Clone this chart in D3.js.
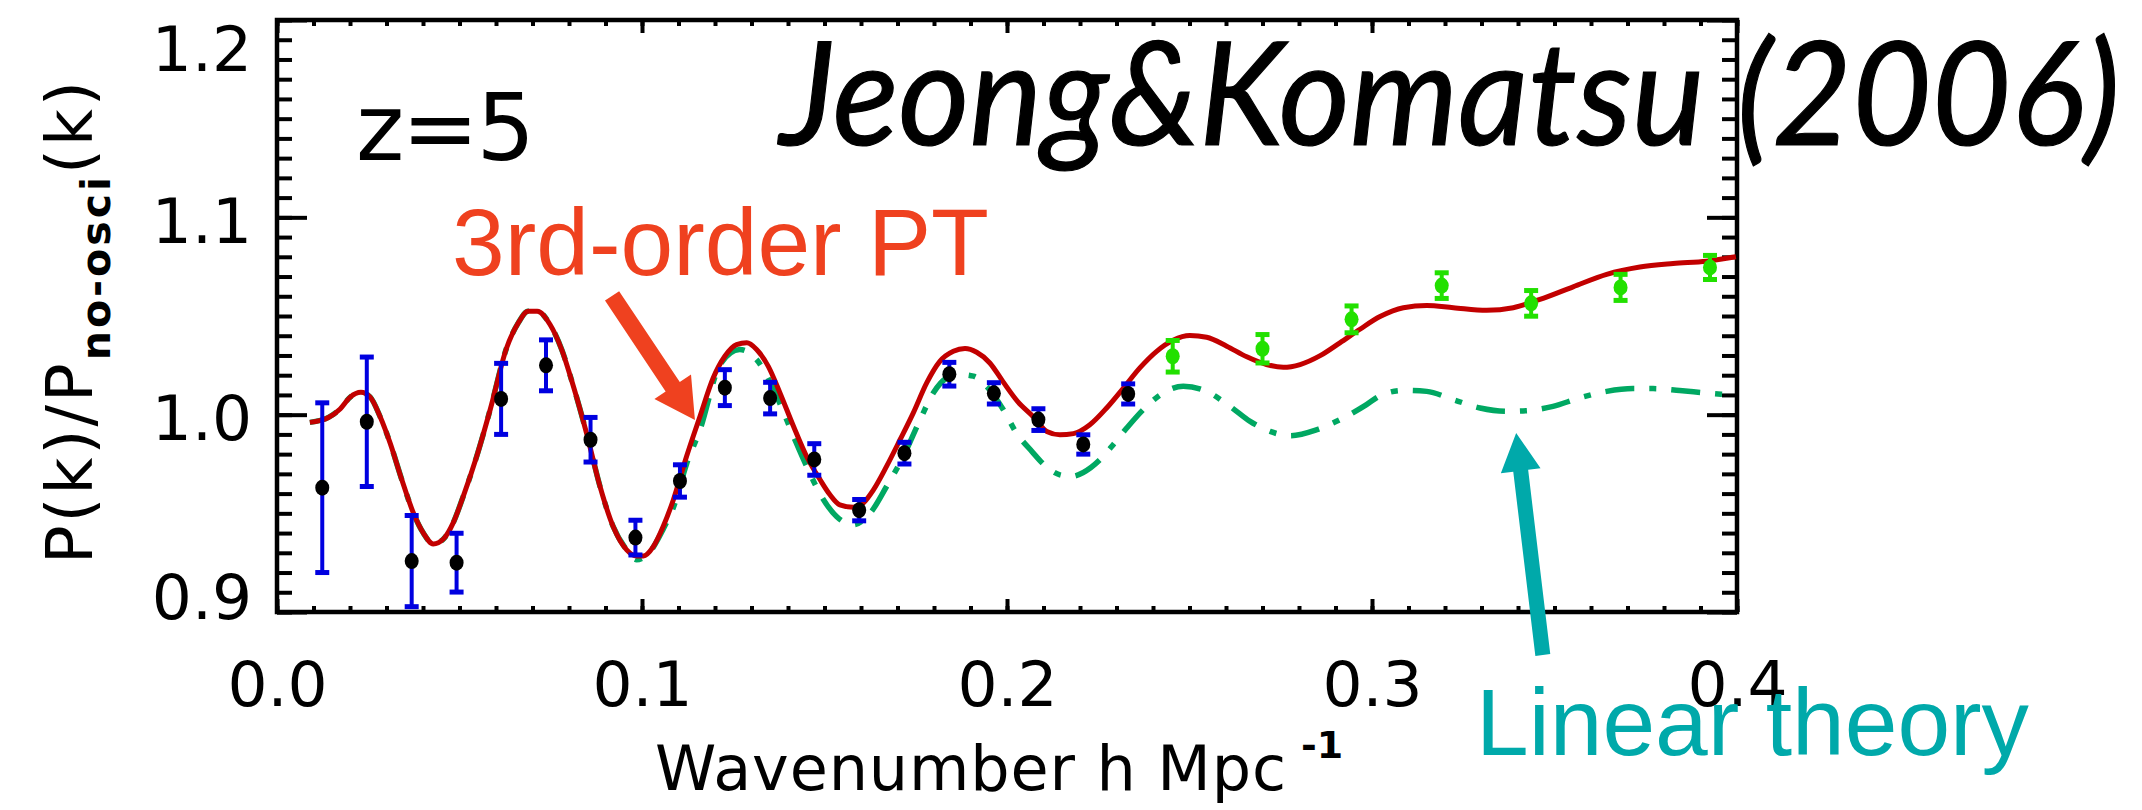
<!DOCTYPE html>
<html>
<head>
<meta charset="utf-8">
<script src="https://cdnjs.cloudflare.com/ajax/libs/d3/7.8.5/d3.min.js"></script>
<style>
  body { margin: 0; background: #fff; }
  svg { display: block; }
</style>
</head>
<body>
<svg width="2142" height="810"></svg>
<script>
// simulation points, k < 0.24 (blue bars)
var kLow = [0.0124, 0.0246, 0.0369, 0.0492, 0.0614, 0.0737, 0.0859, 0.0982, 0.1104, 0.1227,
            0.1351, 0.1472, 0.1595, 0.1719, 0.1842, 0.1964, 0.2086, 0.2209, 0.2332];
var pLow = [0.963, 0.9964, 0.9258, 0.925, 1.008, 1.025, 0.9873, 0.9377, 0.9664, 1.0137,
            1.0084, 0.9773, 0.9516, 0.9805, 1.0205, 1.0108, 0.9975, 0.9849, 1.0105];
var eLow = [0.043, 0.0328, 0.0231, 0.0149, 0.018, 0.0129, 0.0113, 0.0088, 0.0082, 0.0091,
            0.008, 0.008, 0.0054, 0.0055, 0.006, 0.0054, 0.0055, 0.0049, 0.0051];

// simulation points, k > 0.24 (green)
var kHigh = [0.2454, 0.270, 0.2944, 0.3191, 0.3436, 0.3681, 0.3926];
var pHigh = [1.0296, 1.0334, 1.0483, 1.0654, 1.0564, 1.0645, 1.0746];
var eHigh = [0.008, 0.0072, 0.0068, 0.0065, 0.0065, 0.0066, 0.0061];

// 3rd-order PT
var kPT = [0.009, 0.0141, 0.0173, 0.020, 0.023, 0.0255, 0.0282, 0.031, 0.0342, 0.0374,
           0.0401, 0.0428, 0.0456, 0.0483, 0.051, 0.0547, 0.0584, 0.0629, 0.0661, 0.0688,
           0.0713, 0.0748, 0.078, 0.0812, 0.0848, 0.0885, 0.0921, 0.0958, 0.0985, 0.1004,
           0.1031, 0.1058, 0.1086, 0.1122, 0.1159, 0.1195, 0.1227, 0.1259, 0.1287, 0.1314,
           0.1346, 0.1378, 0.1415, 0.1451, 0.1488, 0.1515, 0.1542, 0.1579, 0.1606, 0.1634,
           0.167, 0.1707, 0.1743, 0.178, 0.1816, 0.1853, 0.1885, 0.1917, 0.1953, 0.1988,
           0.2030, 0.2072, 0.2109, 0.2145, 0.2182, 0.2227, 0.2273, 0.2319, 0.2364, 0.241,
           0.2455, 0.2501, 0.2547, 0.2602, 0.2657, 0.2711, 0.2757, 0.2803, 0.2858, 0.2912,
           0.2967, 0.3022, 0.3086, 0.315, 0.3223, 0.3314, 0.3387, 0.346, 0.3551, 0.3643,
           0.3734, 0.3825, 0.3916, 0.3997];
var pPT = [0.9961, 0.9986, 1.0029, 1.0088, 1.0113, 1.009, 0.9992, 0.9856, 0.967, 0.950,
           0.940, 0.9345, 0.937, 0.9453, 0.9585, 0.9788, 1.0025, 1.0338, 1.0465, 1.0524,
           1.0524, 1.0457, 1.033, 1.0144, 0.9907, 0.9636, 0.9433, 0.9315, 0.9284, 0.9284,
           0.9331, 0.9433, 0.9569, 0.9788, 0.9992, 1.0186, 1.0296, 1.0355, 1.0364, 1.033,
           1.0245, 1.011, 0.9941, 0.9788, 0.967, 0.9594, 0.9543, 0.9531, 0.9552, 0.9619,
           0.9738, 0.9873, 1.0008, 1.0161, 1.027, 1.0321, 1.0335, 1.0316, 1.0262, 1.0170,
           1.0065, 0.9990, 0.9915, 0.9898, 0.9904, 0.9949, 1.0034, 1.0135, 1.0237, 1.0321,
           1.0377, 1.0401, 1.0392, 1.0347, 1.0293, 1.0254, 1.024, 1.0254, 1.0299, 1.0364,
           1.0433, 1.0497, 1.0542, 1.0553, 1.0542, 1.0529, 1.0542, 1.0584, 1.0648, 1.0711,
           1.0748, 1.0766, 1.0778, 1.080];

// linear theory
var kLin = [0.009, 0.0141, 0.0173, 0.020, 0.023, 0.0255, 0.0282, 0.031, 0.0342, 0.0374,
            0.0401, 0.0428, 0.0456, 0.0483, 0.051, 0.0547, 0.0584, 0.0629, 0.0661, 0.0688,
            0.0713, 0.0748, 0.078, 0.0812, 0.0848, 0.0885, 0.0921, 0.0958, 0.0985, 0.1022,
            0.1058, 0.1086, 0.1122, 0.1159, 0.1214, 0.1268, 0.1314, 0.1369, 0.1415, 0.1451,
            0.1492, 0.1533, 0.1579, 0.1625, 0.167, 0.1716, 0.1762, 0.1798, 0.1835, 0.1871,
            0.1908, 0.1944, 0.199, 0.2026, 0.2068, 0.2109, 0.2145, 0.2177, 0.2209, 0.2255,
            0.2291, 0.2328, 0.2373, 0.2428, 0.2483, 0.2547, 0.2611, 0.2666, 0.2721, 0.2775,
            0.2849, 0.2921, 0.2985, 0.3022, 0.3086, 0.315, 0.3223, 0.3296, 0.3369, 0.3423,
            0.3496, 0.3569, 0.3643, 0.3715, 0.377, 0.3843, 0.3916, 0.3971];
var pLin = [0.9961, 0.9986, 1.0029, 1.0088, 1.0113, 1.009, 0.9992, 0.9856, 0.967, 0.950,
            0.940, 0.9345, 0.937, 0.9453, 0.9585, 0.9788, 1.0025, 1.0338, 1.0465, 1.0524,
            1.0524, 1.0457, 1.033, 1.0144, 0.9907, 0.9636, 0.9433, 0.9315, 0.9265, 0.9306,
            0.942, 0.953, 0.975, 0.9924, 1.0254, 1.033, 1.0279, 1.0093, 0.989, 0.9738,
            0.9585, 0.9484, 0.9442, 0.9501, 0.9636, 0.9788, 0.9975, 1.011, 1.0186, 1.0203,
            1.0195, 1.0144, 1.0025, 0.9907, 0.9814, 0.9734, 0.9695, 0.9687, 0.9707, 0.9772,
            0.9848, 0.9932, 1.0025, 1.011, 1.0144, 1.0118, 1.0042, 0.9966, 0.9915, 0.9893,
            0.9924, 0.9983, 1.0051, 1.0096, 1.0123, 1.0118, 1.0076, 1.0034, 1.0017, 1.002,
            1.0042, 1.0085, 1.0118, 1.0132, 1.0132, 1.0122, 1.011, 1.0102];

var xTicks = [0, 0.1, 0.2, 0.3, 0.4];
var xTickLabels = ["0.0", "0.1", "0.2", "0.3", "0.4"];
var yTicks = [0.9, 1.0, 1.1, 1.2];
var yTickLabels = ["0.9", "1.0", "1.1", "1.2"];

var svg = d3.select("svg"),
    margin = {top: 20, right: 405, bottom: 198, left: 277},
    width = +svg.attr("width") - margin.left - margin.right,
    height = +svg.attr("height") - margin.top - margin.bottom;

var x = d3.scaleLinear().domain([0, 0.4]).range([0, width]);
var y = d3.scaleLinear().domain([0.9, 1.2]).range([height, 0]);

var g = svg.append("g")
    .attr("transform", "translate(" + margin.left + "," + margin.top + ")");

var xMinor = d3.range(0, 41).map(function(i) { return i / 100; });
var yMinor = d3.range(90, 121).map(function(i) { return i / 100; });

function styleAxis(sel) {
    sel.select(".domain").remove();
    sel.selectAll(".tick line").attr("stroke", "#000").attr("stroke-width", 4);
    sel.selectAll(".tick text")
        .attr("fill", "#000")
        .style("font-family", "'DejaVu Sans', sans-serif")
        .style("font-size", "63px");
}

// bottom
g.append("g").attr("transform", "translate(0," + height + ")")
    .call(d3.axisBottom(x).tickValues(xMinor).tickSizeInner(-6).tickSizeOuter(0).tickFormat(""))
    .call(styleAxis);
g.append("g").attr("transform", "translate(0," + height + ")")
    .call(d3.axisBottom(x).tickValues(xTicks).tickSizeInner(-13).tickSizeOuter(0).tickPadding(49)
        .tickFormat(function(d, i) { return xTickLabels[i]; }))
    .call(styleAxis);
// top
g.append("g")
    .call(d3.axisTop(x).tickValues(xMinor).tickSizeInner(-6).tickSizeOuter(0).tickFormat(""))
    .call(styleAxis);
g.append("g")
    .call(d3.axisTop(x).tickValues(xTicks).tickSizeInner(-13).tickSizeOuter(0).tickFormat(""))
    .call(styleAxis);
// left
g.append("g")
    .call(d3.axisLeft(y).tickValues(yMinor).tickSizeInner(-15).tickSizeOuter(0).tickFormat(""))
    .call(styleAxis);
var yAxisG = g.append("g")
    .call(d3.axisLeft(y).tickValues(yTicks).tickSizeInner(-30).tickSizeOuter(0).tickPadding(25)
        .tickFormat(function(d, i) { return yTickLabels[i]; }))
    .call(styleAxis);
yAxisG.selectAll(".tick text")
    .attr("dy", function(d) { return d === 1.2 ? "0.8em" : d === 0.9 ? "0.1em" : "0.4em"; });
// right
g.append("g").attr("transform", "translate(" + width + ",0)")
    .call(d3.axisRight(y).tickValues(yMinor).tickSizeInner(-15).tickSizeOuter(0).tickFormat(""))
    .call(styleAxis);
g.append("g").attr("transform", "translate(" + width + ",0)")
    .call(d3.axisRight(y).tickValues(yTicks).tickSizeInner(-30).tickSizeOuter(0).tickFormat(""))
    .call(styleAxis);

g.append("rect")
    .attr("width", width).attr("height", height)
    .attr("fill", "none").attr("stroke", "#000").attr("stroke-width", 4.5);

// curves
var line = d3.line()
    .x(function(d) { return x(d[0]); })
    .y(function(d) { return y(d[1]); })
    .curve(d3.curveMonotoneX);

g.append("path")
    .datum(kLin.map(function(k, i) { return [k, pLin[i]]; }))
    .attr("d", line)
    .attr("fill", "none")
    .attr("stroke", "#00a862")
    .attr("stroke-width", 5.5)
    .attr("stroke-dasharray", "29,15,7,15");

g.append("path")
    .datum(kPT.map(function(k, i) { return [k, pPT[i]]; }))
    .attr("d", line)
    .attr("fill", "none")
    .attr("stroke", "#c20000")
    .attr("stroke-width", 5);

// points with error bars
function drawPoints(ks, ps, es, barColor, dotColor) {
    var pts = ks.map(function(k, i) { return {k: k, p: ps[i], e: es[i]}; });
    var pg = g.append("g").selectAll("g").data(pts).enter().append("g");
    pg.append("line")
        .attr("x1", function(d) { return x(d.k); }).attr("x2", function(d) { return x(d.k); })
        .attr("y1", function(d) { return y(d.p - d.e); }).attr("y2", function(d) { return y(d.p + d.e); })
        .attr("stroke", barColor).attr("stroke-width", 4);
    [-1, 1].forEach(function(s) {
        pg.append("line")
            .attr("x1", function(d) { return x(d.k) - 7; }).attr("x2", function(d) { return x(d.k) + 7; })
            .attr("y1", function(d) { return y(d.p + s * d.e); }).attr("y2", function(d) { return y(d.p + s * d.e); })
            .attr("stroke", barColor).attr("stroke-width", 5);
    });
    pg.append("ellipse")
        .attr("cx", function(d) { return x(d.k); })
        .attr("cy", function(d) { return y(d.p); })
        .attr("rx", 7).attr("ry", 8)
        .attr("fill", dotColor);
}
drawPoints(kLow, pLow, eLow, "#0000e0", "#000");
drawPoints(kHigh, pHigh, eHigh, "#22e000", "#22e000");

// arrows
function arrow(k1, v1, k2, v2, shaft, headL, headW, color) {
    var x1 = x(k1), y1 = y(v1), x2 = x(k2), y2 = y(v2);
    var dx = x2 - x1, dy = y2 - y1, len = Math.sqrt(dx * dx + dy * dy);
    var ux = dx / len, uy = dy / len, px = -uy, py = ux;
    var bx = x2 - ux * headL, by = y2 - uy * headL;
    var pts = [
        [x1 + px * shaft / 2, y1 + py * shaft / 2],
        [bx + px * shaft / 2, by + py * shaft / 2],
        [bx + px * headW / 2, by + py * headW / 2],
        [x2, y2],
        [bx - px * headW / 2, by - py * headW / 2],
        [bx - px * shaft / 2, by - py * shaft / 2],
        [x1 - px * shaft / 2, y1 - py * shaft / 2]
    ];
    g.append("polygon")
        .attr("points", pts.map(function(p) { return p.join(","); }).join(" "))
        .attr("fill", color);
}
arrow(0.0918, 1.0602, 0.1145, 0.9973, 17, 40, 44, "#ef411f");
arrow(0.3468, 0.8782, 0.3395, 0.9907, 15, 38, 40, "#00a9aa");

// axis titles
var yTitle = svg.append("text")
    .attr("transform", "translate(92,321) rotate(-90)")
    .attr("text-anchor", "middle")
    .style("font-family", "'DejaVu Sans', sans-serif")
    .style("font-size", "64px")
    .style("letter-spacing", "3px")
    .attr("fill", "#000");
yTitle.append("tspan").text("P(k)/P");
yTitle.append("tspan").attr("dy", 18).style("font-size", "41px").style("font-weight", "bold").text("no-osci");
yTitle.append("tspan").attr("dy", -18).text("(k)");

svg.append("text")
    .attr("x", 655).attr("y", 790)
    .attr("textLength", 631).attr("lengthAdjust", "spacing")
    .style("font-family", "'DejaVu Sans', sans-serif")
    .style("font-size", "62px")
    .attr("fill", "#000")
    .text("Wavenumber h Mpc");
svg.append("text")
    .attr("x", 1301).attr("y", 758)
    .style("font-family", "'DejaVu Sans', sans-serif")
    .style("font-size", "38px")
    .style("font-weight", "bold")
    .attr("fill", "#000")
    .text("-1");

// annotations
svg.append("text")
    .attr("x", 356).attr("y", 160)
    .attr("textLength", 179).attr("lengthAdjust", "spacing")
    .style("font-family", "'DejaVu Sans', sans-serif")
    .style("font-size", "92px")
    .attr("fill", "#000")
    .text("z=5");

svg.append("text")
    .attr("x", 780).attr("y", 145)
    .attr("textLength", 1340).attr("lengthAdjust", "spacingAndGlyphs")
    .style("font-family", "Lato, 'Open Sans', sans-serif")
    .style("font-style", "italic")
    .style("font-size", "144px")
    .attr("fill", "#000")
    .attr("stroke", "#000")
    .attr("stroke-width", 1.2)
    .text("Jeong&Komatsu (2006)");

svg.append("text")
    .attr("x", 452).attr("y", 275)
    .attr("textLength", 537).attr("lengthAdjust", "spacingAndGlyphs")
    .style("font-family", "'Liberation Sans', Arial, sans-serif")
    .style("font-size", "95px")
    .attr("fill", "#ef411f")
    .text("3rd-order PT");

svg.append("text")
    .attr("x", 1476).attr("y", 755)
    .attr("textLength", 553).attr("lengthAdjust", "spacingAndGlyphs")
    .style("font-family", "'Liberation Sans', Arial, sans-serif")
    .style("font-size", "95px")
    .attr("fill", "#00a9aa")
    .text("Linear theory");
</script>
</body>
</html>
